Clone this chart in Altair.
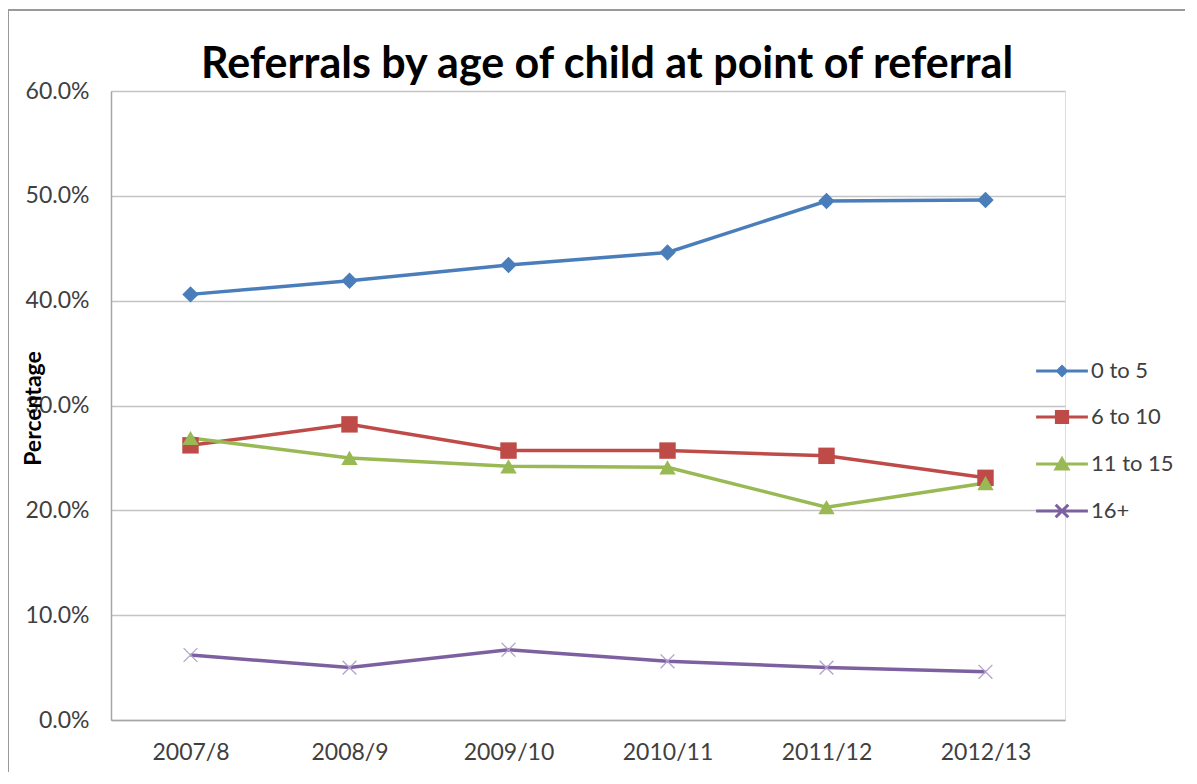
import altair as alt
import pandas as pd

periods = ["2007/8", "2008/9", "2009/10", "2010/11", "2011/12", "2012/13"]
groups = ["0 to 5", "6 to 10", "11 to 15", "16+"]
age_0_5 = [40.6, 41.9, 43.4, 44.6, 49.5, 49.6]
age_6_10 = [26.2, 28.2, 25.7, 25.7, 25.2, 23.1]
age_11_15 = [26.9, 25.0, 24.2, 24.1, 20.3, 22.6]
age_16_plus = [6.2, 5.0, 6.7, 5.6, 5.0, 4.6]
y_ticks = [0.0, 0.1, 0.2, 0.3, 0.4, 0.5, 0.6]

colors = ["#4A7EBB", "#BE4B48", "#98B954", "#7D60A0"]
FONT = "Lato"
LABEL_SIZE = 23

rows = []
for g, vals in zip(groups, [age_0_5, age_6_10, age_11_15, age_16_plus]):
    for p, v in zip(periods, vals):
        rows.append({"period": p, "group": g, "value": v / 100.0})
df = pd.DataFrame(rows)

W, H = 954, 629
PAD = {"left": 103, "top": 83, "right": 1181 - 103 - W - 4, "bottom": 768 - 83 - H - 4}

x_enc = alt.X(
    "period:N", sort=periods, title=None,
    axis=alt.Axis(labelAngle=0, ticks=False, labelPadding=21, labelFontSize=LABEL_SIZE,
                  labelFont=FONT, labelColor="#404040", domainColor="#A6A6A6",
                  domainWidth=1.5, grid=False),
)
y_enc = alt.Y(
    "value:Q", scale=alt.Scale(domain=[0, 0.6], nice=False),
    axis=alt.Axis(values=y_ticks, format=".1%", ticks=False, labelPadding=22,
                  labelFontSize=LABEL_SIZE, labelFont=FONT, labelColor="#404040",
                  domainColor="#A6A6A6", domainWidth=1.5, grid=True,
                  gridColor="#C4C4C4", gridWidth=1.5,
                  title="Percentage", titleFont=FONT, titleFontSize=23,
                  titleFontWeight="bold", titleColor="#000000", titleAngle=-90,
                  titleX=-78, titleY=317, titleAlign="center",
                  titleBaseline="middle"),
)

base = alt.Chart(df)

# one line layer per series, drawn in series order
line_layers = []
for g, c in zip(groups, colors):
    line_layers.append(
        base.transform_filter(alt.datum.group == g)
        .mark_line(strokeWidth=3.5, color=c)
        .encode(x=x_enc, y=y_enc)
    )

shape_map = {"0 to 5": "diamond", "6 to 10": "square", "11 to 15": "triangle-up"}
point_layers = []
for (g, shp), c in zip(shape_map.items(), colors):
    point_layers.append(
        base.transform_filter(alt.datum.group == g)
        .mark_point(shape=shp, filled=True, size=270, opacity=1, color=c)
        .encode(x=x_enc, y=y_enc)
    )
X_PATH = "M-1,-1L1,1M-1,1L1,-1"
x_points = (
    base.transform_filter(alt.datum.group == "16+")
    .mark_point(shape=X_PATH, filled=False, size=190, strokeWidth=1.3,
                color="#B2A1CC", opacity=1)
    .encode(x=x_enc, y=y_enc)
)

legend_paths = [
    "M-3.7,0L3.7,0M0,-0.62L0.62,0L0,0.62L-0.62,0Z",
    "M-3.7,0L3.7,0M-0.8,-0.8L0.8,-0.8L0.8,0.8L-0.8,0.8Z",
    "M-3.7,0L3.7,0M-0.85,0.7L0.85,0.7L0,-0.75Z",
    "M-3.7,0L3.7,0M-0.9,-0.9L0.9,0.9M-0.9,0.9L0.9,-0.9",
]
leg = alt.Legend(
    orient="none", legendX=940, legendY=269, title=None, padding=0,
    labelFont=FONT, labelFontSize=22, labelColor="#404040",
    symbolSize=196, symbolStrokeWidth=3, rowPadding=23, labelOffset=18,
    symbolOpacity=1,
)
legend_layer = (
    base.mark_point(filled=True, opacity=0, size=1)
    .encode(
        x=x_enc, y=y_enc,
        fill=alt.Fill("group:N", scale=alt.Scale(domain=groups, range=colors), legend=leg),
        stroke=alt.Stroke("group:N", scale=alt.Scale(domain=groups, range=colors), legend=leg),
        shape=alt.Shape("group:N", scale=alt.Scale(domain=groups, range=legend_paths), legend=leg),
    )
)

border_df = pd.DataFrame({"k": [0]})
border_top = alt.Chart(border_df).mark_rule(color="#9A9A9A", strokeWidth=2).encode(
    x=alt.value(-103), x2=alt.value(1090), y=alt.value(-81)
)
border_left = alt.Chart(border_df).mark_rule(color="#9A9A9A", strokeWidth=2).encode(
    x=alt.value(-103), y=alt.value(-81), y2=alt.value(700)
)

chart = alt.layer(
    border_top, border_left, *line_layers, *point_layers, x_points, legend_layer
).properties(
    width=W, height=H,
    title=alt.TitleParams(
        "Referrals by age of child at point of referral",
        font=FONT, fontSize=43, fontWeight="bold", color="#000000",
        anchor="middle", offset=-78, dx=19,
    ),
    autosize=alt.AutoSizeParams(type="none"),
    padding=PAD,
).configure_view(stroke=None).configure(background="#FFFFFF")

chart.save("out.html", embed_options={"renderer": "svg", "actions": False})
